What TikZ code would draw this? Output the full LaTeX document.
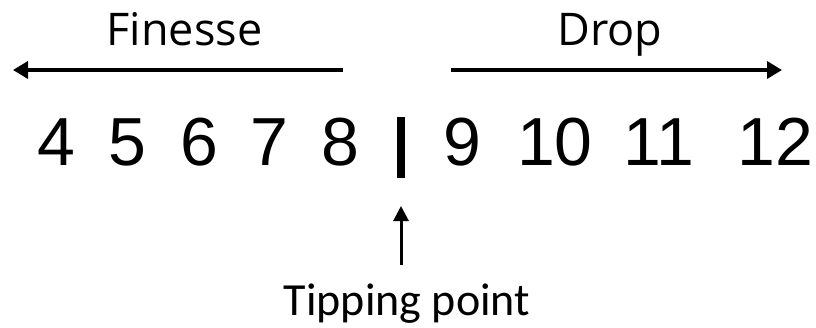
\documentclass[tikz,border=0pt]{standalone}
\usepackage{fontspec}
\usetikzlibrary{arrows.meta}
\newfontfamily\labelfont{Open Sans}
\newfontfamily\numfont{Liberation Sans}
\newfontfamily\notefont{Carlito}
\tikzset{
  heading/.style={font=\labelfont\fontsize{45}{54}\selectfont, anchor=base, inner sep=0pt},
  num/.style={font=\numfont\fontsize{68}{80}\selectfont, anchor=base, inner sep=0pt},
  note/.style={font=\notefont\fontsize{46}{55}\selectfont, anchor=base, inner sep=0pt},
  bigarrow/.style={line width=3.6pt, -{Triangle[length=15pt,width=17pt]}},
  smallarrow/.style={line width=3pt, -{Triangle[length=15pt,width=15pt]}},
  divider/.style={fill=black, draw=none, minimum width=8pt, minimum height=61pt, inner sep=0pt, anchor=north}
}
\begin{document}
\begin{tikzpicture}[x=1pt,y=-1pt]
  \useasboundingbox (0,0) rectangle (816,327);

  % direction labels
  \node[heading] (finesse) at (184.5,45) {Finesse};
  \node[heading] (drop) at (610,45) {Drop};

  % direction arrows
  \coordinate (finStart) at (343,70);
  \coordinate (finEnd) at (13,70);
  \coordinate (dropStart) at (451,70);
  \coordinate (dropEnd) at (782,70);
  \draw[bigarrow] (finStart) -- (finEnd);
  \draw[bigarrow] (dropStart) -- (dropEnd);

  % number line
  \node[num] (n4) at (56,165) {4};
  \node[num] (n5) at (127,165) {5};
  \node[num] (n6) at (199,165) {6};
  \node[num] (n7) at (269,165) {7};
  \node[num] (n8) at (340,165) {8};
  \node[divider] (bar) at (401,117) {};
  \node[num] (n9) at (462,165) {9};
  \node[num] (n10) at (555,165) {10};
  \node[num] (n11) at (659,165) {11};
  \node[num] (n12) at (775,165) {12};

  % tipping point marker
  \node[note] (tip) at (407,315.5) {Tipping point};
  \coordinate (tipTail) at (401,265);
  \coordinate (tipHead) at (401,206);
  \draw[smallarrow] (tipTail) -- (tipHead);
\end{tikzpicture}
\end{document}
